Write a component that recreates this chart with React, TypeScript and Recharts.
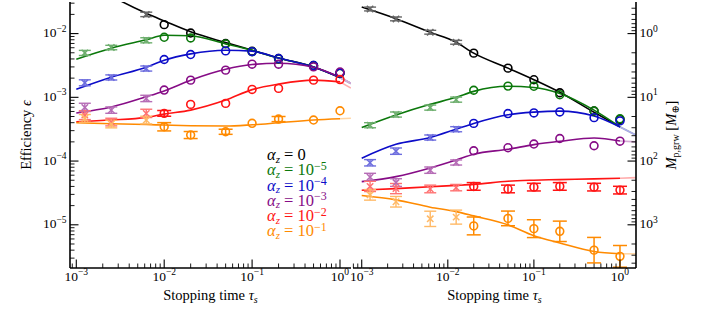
import React from 'react';
import { ComposedChart, Line, Scatter, XAxis, YAxis, ErrorBar, Legend } from 'recharts';

const FONT = '"Liberation Serif", "Times New Roman", "DejaVu Serif", serif';

const colors = ['#000000', '#0b780b', '#0c0cc8', '#860c86', '#ff1414', '#ff8a00'];
const alphaExp = [null, -5, -4, -3, -2, -1];

// ---------- 1 au ----------
const tauCurve1au = [0.001, 0.0025, 0.00625, 0.01, 0.02, 0.05, 0.1, 0.2, 0.5, 1];
const tauPts1au = [0.00125, 0.0025, 0.00625, 0.01, 0.02, 0.05, 0.1, 0.2, 0.5, 1];
const crossCount1au = 3;
const tauTail1au = [1, 1.33];

const curve1auA0 = [0.083, 0.039, 0.0208, 0.0158, 0.01067, 0.00723, 0.00548, 0.00415, 0.003, 0.00205];
const curve1auA5 = [0.00396, 0.00589, 0.008, 0.0094, 0.00924, 0.0069, 0.00545, 0.00413, 0.003, 0.00205];
const curve1auA4 = [0.00134, 0.00207, 0.00297, 0.00382, 0.0048, 0.00548, 0.0053, 0.00413, 0.003, 0.00205];
const curve1auA3 = [0.000566, 0.000703, 0.00102, 0.00126, 0.00186, 0.00276, 0.00327, 0.00343, 0.00297, 0.00207];
const curve1auA2 = [0.000414, 0.00044, 0.000484, 0.000545, 0.00063, 0.000904, 0.00132, 0.00161, 0.00186, 0.00175];
const curve1auA1 = [0.000399, 0.000385, 0.000374, 0.000367, 0.000358, 0.000354, 0.000371, 0.000399, 0.00044, 0.000461];

const tail1auA0 = [0.00205, 0.00165];
const tail1auA5 = [0.00205, 0.00165];
const tail1auA4 = [0.00205, 0.00165];
const tail1auA3 = [0.00207, 0.00165];
const tail1auA2 = [0.00175, 0.0014];
const tail1auA1 = [0.000461, 0.00047];

const pts1auA0 = [null, null, 0.02, 0.0138, 0.0102, 0.00698, 0.00528, 0.00406, 0.00316, 0.0024];
const pts1auA5 = [0.00497, 0.00604, 0.00785, 0.00875, 0.00853, 0.0069, 0.0052, 0.004, 0.0031, 0.0024];
const pts1auA4 = [0.00169, 0.00205, 0.00283, 0.00392, 0.00469, 0.00535, 0.00522, 0.00406, 0.00316, 0.0024];
const pts1auA3 = [0.000695, 0.00063, 0.00096, 0.0013, 0.00186, 0.00267, 0.00331, 0.00331, 0.003, 0.0025];
const pts1auA2 = [0.000526, 0.000409, 0.00056, 0.00056, 0.000774, 0.000803, 0.00133, 0.00138, 0.00186, 0.0019];
const pts1auA1 = [0.000468, 0.000381, 0.00044, 0.000345, 0.000256, 0.000288, 0.000391, 0.000456, 0.00044, 0.000615];

// error half-widths in dex (0 = bar hidden inside the marker)
const err1auA0 = [0.03, 0.03, 0.035, 0, 0, 0, 0, 0, 0, 0];
const err1auA5 = [0.04, 0.035, 0.04, 0, 0, 0, 0, 0, 0, 0];
const err1auA4 = [0.047, 0.04, 0.04, 0, 0, 0, 0, 0, 0, 0];
const err1auA3 = [0.065, 0.05, 0.05, 0, 0, 0, 0, 0, 0, 0];
const err1auA2 = [0.07, 0.06, 0.065, 0.045, 0, 0, 0, 0, 0, 0];
const err1auA1 = [0.06, 0.06, 0.06, 0.065, 0.055, 0.04, 0, 0.04, 0, 0];

// ---------- 30 au ----------
const tauCurve30au = [0.001, 0.0025, 0.00625, 0.0125, 0.02, 0.05, 0.1, 0.2, 0.5, 1];
const tauPts30au = [0.00125, 0.0025, 0.00625, 0.0125, 0.02, 0.05, 0.1, 0.2, 0.5, 1];
const crossCount30au = 4;
const tauTail30au = [1, 1.53];

const curve30auA0 = [0.0261, 0.01714, 0.01047, 0.00731, 0.00493, 0.00287, 0.00189, 0.0012, 0.000583, 0.000344];
const curve30auA5 = [0.000336, 0.000528, 0.000776, 0.001, 0.00124, 0.00149, 0.00143, 0.00115, 0.00063, 0.000344];
const curve30auA4 = [0.000111, 0.000183, 0.000234, 0.000316, 0.000389, 0.000532, 0.000586, 0.000608, 0.000508, 0.000342];
const curve30auA3 = [4.76e-5, 5.7e-5, 7.8e-5, 0.000104, 0.000128, 0.000153, 0.000181, 0.000204, 0.00023, 0.000206];
const curve30auA2 = [3.49e-5, 3.7e-5, 3.96e-5, 4.15e-5, 4.3e-5, 4.83e-5, 5.01e-5, 5.12e-5, 5.25e-5, 5.38e-5];
const curve30auA1 = [2.88e-5, 2.46e-5, 1.89e-5, 1.61e-5, 1.38e-5, 1.0e-5, 6.73e-6, 5.18e-6, 3.82e-6, 3.52e-6];

const tail30auA0 = [0.000344, 0.000255];
const tail30auA5 = [0.000344, 0.000255];
const tail30auA4 = [0.000342, 0.000255];
const tail30auA3 = [0.000206, 0.0002];
const tail30auA2 = [5.38e-5, 5.5e-5];
const tail30auA1 = [3.52e-6, 3.5e-6];

const pts30auA0 = [0.0243, 0.017, 0.0105, 0.0073, 0.00493, 0.00287, 0.00189, 0.00118, 0.00061, 0.00045];
const pts30auA5 = [0.000365, 0.000537, 0.00069, 0.00092, 0.00129, 0.0015, 0.00149, 0.0011, 0.00061, 0.00046];
const pts30auA4 = [9.4e-5, 0.000143, 0.000234, 0.000316, 0.00039, 0.000556, 0.000569, 0.00059, 0.00048, 0.000427];
const pts30auA3 = [5.6e-5, 4.6e-5, 7.2e-5, 9.5e-5, 0.000145, 0.000162, 0.000185, 0.000226, 0.000174, 0.000205];
const pts30auA2 = [4.0e-5, 3.7e-5, 3.65e-5, 3.83e-5, 4.0e-5, 3.65e-5, 3.9e-5, 4.0e-5, 3.9e-5, 3.5e-5];
const pts30auA1 = [2.95e-5, 2.3e-5, 1.24e-5, 1.32e-5, 9.6e-6, 1.26e-5, 8.7e-6, 7.9e-6, 4.0e-6, 3.2e-6];

const err30auA0 = [0.03, 0.03, 0.03, 0.03, 0, 0, 0, 0, 0, 0];
const err30auA5 = [0.04, 0.04, 0.04, 0.04, 0, 0, 0, 0, 0, 0];
const err30auA4 = [0.05, 0.05, 0.04, 0.04, 0, 0, 0, 0, 0, 0];
const err30auA3 = [0.06, 0.06, 0.05, 0.04, 0, 0, 0, 0, 0, 0];
const err30auA2 = [0.08, 0.08, 0.06, 0.05, 0.06, 0.06, 0.06, 0.06, 0.06, 0.06];
const err30auA1 = [0.083, 0.083, 0.12, 0.11, 0.14, 0.115, 0.14, 0.16, 0.2, 0.17];

// axes
const xDomain1au: [number, number] = [8.48e-4, 1.334];
const xDomain30au: [number, number] = [7.92e-4, 1.535];
const yDomain: [number, number] = [2.1e-6, 0.0313];

function decadeTicks(lo: number, hi: number) {
  const out: number[] = [];
  for (let e = Math.floor(Math.log10(lo)); e <= Math.ceil(Math.log10(hi)); e++) {
    for (let k = 1; k < 10; k++) {
      const v = k * Math.pow(10, e);
      if (v >= lo && v <= hi) out.push(v);
    }
  }
  return out;
}

const isMajor = (v: number) => Math.abs(Math.log10(v) - Math.round(Math.log10(v))) < 1e-6;
const expText = (e: number) => (e < 0 ? '\u2212' + -e : String(e));

function mix(hex: string, a: number) {
  const n = parseInt(hex.slice(1), 16);
  const c = [(n >> 16) & 255, (n >> 8) & 255, n & 255].map((v) => Math.round(v * a + 255 * (1 - a)));
  return `rgb(${c[0]},${c[1]},${c[2]})`;
}

function AxisTick(props: any) {
  const { x, y, payload, side, mode } = props;
  const v = payload.value;
  const major = isMajor(v);
  const len = major ? 8.5 : 4.5;
  const sw = major ? 1.1 : 0.9;
  let label = null;
  let line;
  if (side === 'bottom' || side === 'top') {
    const d = side === 'bottom' ? -len : len;
    line = <line x1={x} x2={x} y1={y} y2={y + d} stroke="#000" strokeWidth={sw} />;
    if (mode === 'eps' && major) {
      label = (
        <text x={x} y={y + 12.5} textAnchor="middle" fontFamily={FONT} fontSize={13.5} fill="#000">
          10<tspan dy={-5.5} fontSize={9.5}>{expText(Math.round(Math.log10(v)))}</tspan>
        </text>
      );
    }
  } else {
    const d = side === 'left' ? len : -len;
    line = <line x1={x} x2={x + d} y1={y} y2={y} stroke="#000" strokeWidth={sw} />;
    if (major && mode === 'eps') {
      label = (
        <text x={x - 3.5} y={y + 3.5} textAnchor="end" fontFamily={FONT} fontSize={13.5} fill="#000">
          10<tspan dy={-5.5} fontSize={9.5}>{expText(Math.round(Math.log10(v)))}</tspan>
        </text>
      );
    }
    if (major && mode === 'mass') {
      label = (
        <text x={x + 3.5} y={y + 3.5} textAnchor="start" fontFamily={FONT} fontSize={13.5} fill="#000">
          10<tspan dy={-5.5} fontSize={9.5}>{expText(Math.round(Math.log10(0.01 / v)))}</tspan>
        </text>
      );
    }
  }
  return (
    <g>
      {line}
      {label}
    </g>
  );
}

function curveRows(tau: number[], eps: number[]) {
  return tau.map((t, i) => ({ tau: t, eps: eps[i] }));
}

// rows between from and to; withErr selects the points that carry a visible bar
function pointRows(tau: number[], eps: (number | null)[], err: number[], from: number, to: number, withErr: boolean) {
  const rows: any[] = [];
  for (let i = from; i < to; i++) {
    const e = eps[i];
    if (e == null) continue;
    const d = err[i];
    if ((d > 0) !== withErr) continue;
    rows.push({ tau: tau[i], eps: e, err: [e * (1 - Math.pow(10, -d)), e * (Math.pow(10, d) - 1)] });
  }
  return rows;
}

const circleShape = (color: string) => (p: any) => (
  <circle cx={p.cx} cy={p.cy} r={3.9} fill="none" stroke={color} strokeWidth={1.6} />
);

const crossShape = (color: string) => (p: any) => {
  const s = 3.2;
  return (
    <g stroke={color} strokeWidth={1.5}>
      <line x1={p.cx - s} y1={p.cy - s} x2={p.cx + s} y2={p.cy + s} />
      <line x1={p.cx - s} y1={p.cy + s} x2={p.cx + s} y2={p.cy - s} />
    </g>
  );
};

function LegendBox() {
  return (
    <div style={{ fontFamily: FONT, fontSize: 16.5, lineHeight: '15.3px' }}>
      {colors.map((c, i) => (
        <div key={i} style={{ color: c, height: 15.3, whiteSpace: 'nowrap' }}>
          <i>α</i>
          <sub style={{ fontSize: 11, lineHeight: 0, verticalAlign: 'baseline', position: 'relative', top: 2.5 }}>
            <i>z</i>
          </sub>
          {' = '}
          {alphaExp[i] === null ? (
            '0'
          ) : (
            <>
              10
              <sup style={{ fontSize: 12, lineHeight: 0, verticalAlign: 'baseline', position: 'relative', top: -5.5 }}>
                {expText(alphaExp[i] as number)}
              </sup>
            </>
          )}
        </div>
      ))}
    </div>
  );
}

type PanelProps = {
  tauCurve: number[];
  curves: number[][];
  tauTail: number[];
  tails: number[][];
  tauPts: number[];
  pts: (number | null)[][];
  errs: number[][];
  nCross: number;
  xDomain: [number, number];
  margin: { top: number; right: number; bottom: number; left: number };
  leftW: number;
  rightW: number;
  leftMode: string;
  rightMode: string;
  title: string;
  titleInset: number;
  legend?: boolean;
};

function Panel(p: PanelProps) {
  const xTicks = decadeTicks(p.xDomain[0], p.xDomain[1]);
  const yTicks = decadeTicks(yDomain[0], yDomain[1]);
  const massTicks = decadeTicks(0.01 / yDomain[1], 0.01 / yDomain[0]).map((m) => 0.01 / m);
  const axisLine = { stroke: '#000', strokeWidth: 1.6 };

  return (
    <ComposedChart width={706} height={309} margin={p.margin}>
      <XAxis
        dataKey="tau"
        type="number"
        scale="log"
        domain={p.xDomain}
        allowDataOverflow
        ticks={xTicks}
        interval={0}
        tickLine={false}
        tickSize={0}
        tickMargin={0}
        height={41}
        axisLine={axisLine}
        tick={(t: any) => <AxisTick {...t} side="bottom" mode="eps" />}
        label={(l: any) => {
          const vb = l.viewBox;
          return (
            <text x={vb.x + vb.width / 2} y={vb.y + 32} textAnchor="middle" fontFamily={FONT} fontSize={14.5} fill="#000">
              Stopping time <tspan fontStyle="italic">τ</tspan>
              <tspan fontStyle="italic" fontSize={10} dy={3}>s</tspan>
            </text>
          );
        }}
      />
      <XAxis
        xAxisId="top"
        orientation="top"
        dataKey="tau"
        type="number"
        scale="log"
        domain={p.xDomain}
        allowDataOverflow
        ticks={xTicks}
        interval={0}
        tickLine={false}
        tickSize={0}
        tickMargin={0}
        height={0}
        axisLine={axisLine}
        tick={(t: any) => <AxisTick {...t} side="top" mode="none" />}
        label={(l: any) => {
          const vb = l.viewBox;
          return (
            <text x={vb.x + vb.width - p.titleInset} y={vb.y + 24.5} textAnchor="end" fontFamily={FONT} fontSize={18.5} fill="#000">
              {p.title}
            </text>
          );
        }}
      />
      <YAxis
        type="number"
        scale="log"
        domain={yDomain}
        allowDataOverflow
        ticks={yTicks}
        interval={0}
        tickLine={false}
        tickSize={0}
        tickMargin={0}
        width={p.leftW}
        axisLine={axisLine}
        tick={(t: any) => <AxisTick {...t} side="left" mode={p.leftMode} />}
        label={
          p.leftMode === 'eps'
            ? (l: any) => {
                const vb = l.viewBox;
                const cx = vb.x + 31;
                const cy = vb.y + vb.height / 2;
                return (
                  <text x={cx} y={cy} transform={`rotate(-90 ${cx} ${cy})`} textAnchor="middle" fontFamily={FONT} fontSize={14.5} fill="#000">
                    Efficiency <tspan fontStyle="italic">ϵ</tspan>
                  </text>
                );
              }
            : undefined
        }
      />
      <YAxis
        yAxisId="right"
        orientation="right"
        type="number"
        scale="log"
        domain={yDomain}
        allowDataOverflow
        ticks={p.rightMode === 'mass' ? massTicks : yTicks}
        interval={0}
        tickLine={false}
        tickSize={0}
        tickMargin={0}
        width={p.rightW}
        axisLine={axisLine}
        tick={(t: any) => <AxisTick {...t} side="right" mode={p.rightMode} />}
        label={
          p.rightMode === 'mass'
            ? (l: any) => {
                const vb = l.viewBox;
                const cx = vb.x + 40;
                const cy = vb.y + vb.height / 2;
                return (
                  <text x={cx} y={cy} transform={`rotate(-90 ${cx} ${cy})`} textAnchor="middle" fontFamily={FONT} fontSize={14.5} fill="#000">
                    <tspan fontStyle="italic">M</tspan>
                    <tspan fontSize={10} dy={3}>p,grw</tspan>
                    <tspan dy={-3}> [</tspan>
                    <tspan fontStyle="italic">M</tspan>
                    <tspan fontSize={10} dy={3}>⊕</tspan>
                    <tspan dy={-3}>]</tspan>
                  </text>
                );
              }
            : undefined
        }
      />

      {p.tails.map((tail, i) => (
        <Line
          key={'tail' + i}
          data={curveRows(p.tauTail, tail)}
          dataKey="eps"
          type="linear"
          stroke={mix(colors[i], 0.35)}
          strokeWidth={1.6}
          dot={false}
          isAnimationActive={false}
        />
      ))}
      {p.curves.map((curve, i) => (
        <Line
          key={'curve' + i}
          data={curveRows(p.tauCurve, curve)}
          dataKey="eps"
          type="monotone"
          stroke={colors[i]}
          strokeWidth={1.6}
          dot={false}
          isAnimationActive={false}
        />
      ))}
      {p.pts.map((pts, i) => (
        <Scatter
          key={'cross' + i}
          data={pointRows(p.tauPts, pts, p.errs[i], 0, p.nCross, true)}
          dataKey="eps"
          shape={crossShape(mix(colors[i], 0.6))}
          isAnimationActive={false}
        >
          <ErrorBar dataKey="err" direction="y" width={6} stroke={mix(colors[i], 0.6)} strokeWidth={1.4} />
        </Scatter>
      ))}
      {p.pts.map((pts, i) => (
        <Scatter
          key={'circ' + i}
          data={pointRows(p.tauPts, pts, p.errs[i], p.nCross, pts.length, false)}
          dataKey="eps"
          shape={circleShape(colors[i])}
          isAnimationActive={false}
        />
      ))}
      {p.pts.map((pts, i) => (
        <Scatter
          key={'circErr' + i}
          data={pointRows(p.tauPts, pts, p.errs[i], p.nCross, pts.length, true)}
          dataKey="eps"
          shape={circleShape(colors[i])}
          isAnimationActive={false}
        >
          <ErrorBar dataKey="err" direction="y" width={7} stroke={colors[i]} strokeWidth={1.5} />
        </Scatter>
      ))}
      {p.legend && (
        <Legend
          layout="vertical"
          align="center"
          verticalAlign="middle"
          wrapperStyle={{ left: 267, top: 147, width: 90, height: 95 }}
          content={() => <LegendBox />}
        />
      )}
    </ComposedChart>
  );
}

export default function App() {
  return (
    <div style={{ position: 'absolute', left: 0, top: 0, width: 706, height: 309, background: '#fff', fontFamily: FONT }}>
      <div style={{ position: 'absolute', left: 0, top: 0 }}>
        <Panel
          tauCurve={tauCurve1au}
          curves={[curve1auA0, curve1auA5, curve1auA4, curve1auA3, curve1auA2, curve1auA1]}
          tauTail={tauTail1au}
          tails={[tail1auA0, tail1auA5, tail1auA4, tail1auA3, tail1auA2, tail1auA1]}
          tauPts={tauPts1au}
          pts={[pts1auA0, pts1auA5, pts1auA4, pts1auA3, pts1auA2, pts1auA1]}
          errs={[err1auA0, err1auA5, err1auA4, err1auA3, err1auA2, err1auA1]}
          nCross={crossCount1au}
          xDomain={xDomain1au}
          margin={{ top: 2, right: 355, bottom: 0, left: 0 }}
          leftW={70}
          rightW={0}
          leftMode="eps"
          rightMode="none"
          title="1 au"
          titleInset={9}
          legend
        />
      </div>
      <div style={{ position: 'absolute', left: 0, top: 0 }}>
        <Panel
          tauCurve={tauCurve30au}
          curves={[curve30auA0, curve30auA5, curve30auA4, curve30auA3, curve30auA2, curve30auA1]}
          tauTail={tauTail30au}
          tails={[tail30auA0, tail30auA5, tail30auA4, tail30auA3, tail30auA2, tail30auA1]}
          tauPts={tauPts30au}
          pts={[pts30auA0, pts30auA5, pts30auA4, pts30auA3, pts30auA2, pts30auA1]}
          errs={[err30auA0, err30auA5, err30auA4, err30auA3, err30auA2, err30auA1]}
          nCross={crossCount30au}
          xDomain={xDomain30au}
          margin={{ top: 2, right: 0, bottom: 0, left: 353 }}
          leftW={0}
          rightW={70}
          leftMode="none"
          rightMode="mass"
          title="30 au"
          titleInset={12}
        />
      </div>
    </div>
  );
}
